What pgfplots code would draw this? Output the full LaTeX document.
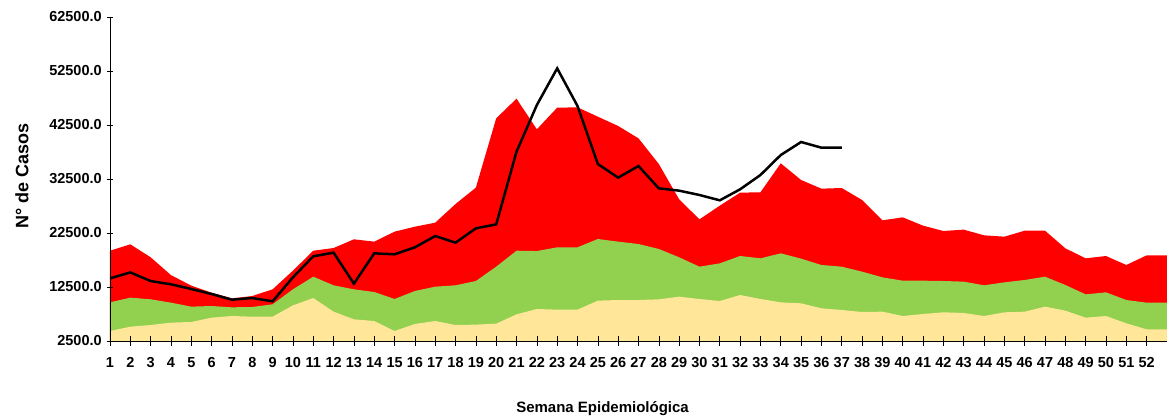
\documentclass[border=0pt]{standalone}
\usepackage{fontspec}
\setmainfont{Liberation Sans}
\usepackage{pgfplots}
\pgfplotsset{compat=1.18}
\usepackage{pgfplotstable}
\definecolor{cred}{HTML}{FF0000}
\definecolor{cgreen}{HTML}{92D050}
\definecolor{cyellow}{HTML}{FFE699}
\pgfplotstableread{
w red green yellow
1 19220 9660 4350
2 20400 10525 5150
3 18000 10220 5460
4 14700 9600 5900
5 12750 8860 6020
6 11450 8980 6820
7 10400 8735 7130
8 10830 8800 7000
9 12070 9290 7000
10 15525 12070 9100
11 19220 14410 10460
12 19720 12810 7930
13 21330 12070 6510
14 20900 11575 6200
15 22750 10280 4350
16 23670 11760 5650
17 24410 12560 6200
18 27870 12810 5460
19 30900 13610 5530
20 43735 16265 5710
21 47380 19220 7440
22 41700 19160 8430
23 45710 19850 8300
24 45770 19850 8300
25 44040 21390 9970
26 42315 20900 10090
27 40030 20460 10090
28 35280 19540 10216
29 28735 18000 10710
30 25030 16265 10280
31 27560 16880 9900
32 29970 18240 11020
33 30040 17810 10280
34 35400 18735 9660
35 32315 17750 9475
36 30710 16575 8550
37 30830 16265 8240
38 28610 15340 7870
39 24850 14290 7930
40 25400 13670 7130
41 23860 13670 7500
42 22870 13610 7810
43 23120 13490 7690
44 22070 12810 7130
45 21820 13360 7810
46 22930 13800 7930
47 22930 14410 8860
48 19660 12870 8120
49 17810 11140 6820
50 18240 11510 7130
51 16575 10090 5770
52 18360 9600 4660
53 18360 9600 4660
}\areadata
\pgfplotstableread{
w cases
1 14100
2 15200
3 13600
4 13000
5 12130
6 11200
7 10150
8 10460
9 9850
10 14290
11 18180
12 18860
13 13120
14 18735
15 18550
16 19850
17 21940
18 20710
19 23360
20 24100
21 37560
22 46200
23 52990
24 46020
25 35280
26 32750
27 34900
28 30770
29 30340
30 29540
31 28550
32 30590
33 33240
34 36940
35 39350
36 38300
37 38300
}\casedata
\begin{document}
\begin{tikzpicture}
\useasboundingbox (-110bp,-77bp) rectangle (1057bp,341bp);
\begin{axis}[
  scale only axis, width=1057bp, height=324bp,
  at={(0,0)}, anchor=south west,
  xmin=1, xmax=53, ymin=2500, ymax=62500,
  axis on top,
  axis lines=left, axis line style={-, line width=0.8bp, black},
  xtick={1,...,52}, extra x ticks={53}, extra x tick labels={},
  ytick={2500,12500,...,62500},
  scaled y ticks=false,
  tick align=center,
  tick style={black, line width=0.6bp},
  xtick style={/pgfplots/major tick length=10bp},
  ytick style={/pgfplots/major tick length=6bp},
  /pgf/number format/assume math mode=true,
  yticklabel style={/pgf/number format/fixed, /pgf/number format/fixed zerofill, /pgf/number format/precision=1, /pgf/number format/1000 sep={}},
  ticklabel style={font=\bfseries\fontsize{14.5bp}{16bp}\selectfont},
  xticklabel style={inner sep=0pt, anchor=north, yshift=-14bp},
  yticklabel style={inner sep=0pt, anchor=east, xshift=-6bp},
  xlabel={Semana Epidemiológica},
  ylabel={N° de Casos},
  xlabel style={font=\bfseries\fontsize{15bp}{18bp}\selectfont, at={(axis description cs:0.466,0)}, anchor=north, inner sep=0pt, yshift=-60bp},
  ylabel style={font=\bfseries\fontsize{18bp}{20bp}\selectfont, at={(axis description cs:0,0.51)}, anchor=center, inner sep=0pt, yshift=88bp},
  clip=true,
]
\addplot[draw=none, fill=cred] table[x=w, y=red] {\areadata} \closedcycle;
\addplot[draw=none, fill=cgreen] table[x=w, y=green] {\areadata} \closedcycle;
\addplot[draw=none, fill=cyellow] table[x=w, y=yellow] {\areadata} \closedcycle;
\addplot[black, line width=2.5bp, mark=none] table[x=w, y=cases] {\casedata};
\end{axis}
\end{tikzpicture}
\end{document}
